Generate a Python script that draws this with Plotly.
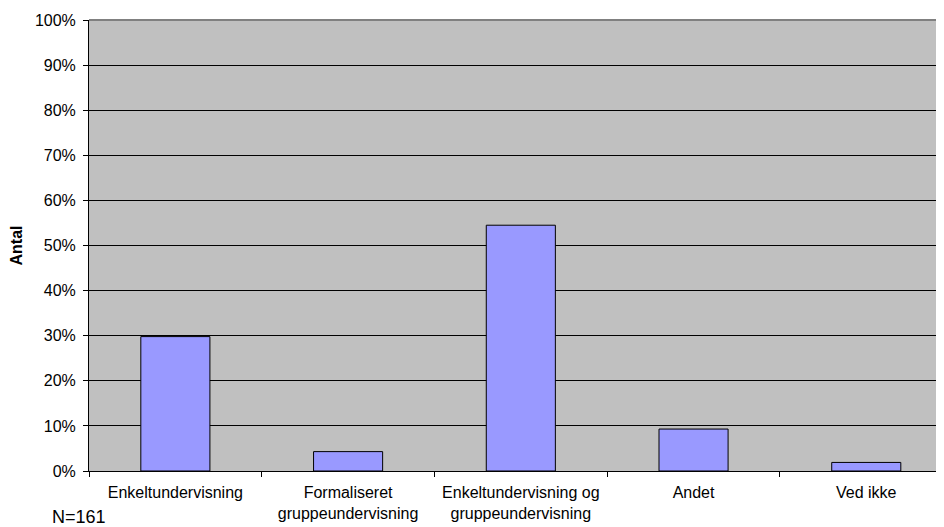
import plotly.graph_objects as go

# Kategorier og andele (procent af N=161)
categories = [
    "Enkeltundervisning",
    "Formaliseret<br>gruppeundervisning",
    "Enkeltundervisning og<br>gruppeundervisning",
    "Andet",
    "Ved ikke",
]
shares = [29.8, 4.3, 54.5, 9.3, 1.9]
y_ticks = [0, 10, 20, 30, 40, 50, 60, 70, 80, 90, 100]
y_ticklabels = [f"{v}%" for v in y_ticks]

fig = go.Figure()
fig.add_trace(go.Bar(
    x=categories,
    y=shares,
    width=0.4,
    marker=dict(color="#9999FF", line=dict(color="black", width=1)),
))

# siden har 8px body-margin, derfor 936x519
fig.update_layout(
    width=936,
    height=519,
    margin=dict(l=81, r=0, t=12, b=56),
    paper_bgcolor="white",
    plot_bgcolor="#C0C0C0",
    font=dict(family="Liberation Sans, Arial, sans-serif", size=16, color="black"),
    showlegend=False,
)

fig.update_xaxes(
    type="category",
    range=[-0.5, 4.45],
    showline=True,
    linecolor="black",
    linewidth=1,
    ticks="outside",
    tickson="boundaries",
    ticklen=5,
    tickcolor="black",
    ticklabelstandoff=7,
    showgrid=False,
    tickfont=dict(size=16),
)

fig.update_yaxes(
    range=[0, 100],
    tickvals=y_ticks,
    ticktext=y_ticklabels,
    showline=True,
    linecolor="black",
    linewidth=1,
    ticks="outside",
    ticklen=5,
    tickcolor="black",
    ticklabelstandoff=4,
    showgrid=True,
    gridcolor="black",
    gridwidth=1,
    zeroline=False,
    tickfont=dict(size=16),
    title=dict(text="<b>Antal</b>", font=dict(size=16), standoff=10),
)

# grå kant øverst i plotområdet
fig.add_shape(type="line", xref="paper", yref="paper", x0=0, x1=1, y0=1, y1=1,
              line=dict(color="#808080", width=2))

fig.add_annotation(text="N=161", xref="paper", yref="paper", x=-0.046, y=0,
                   yshift=-58, xanchor="left", yanchor="bottom", showarrow=False,
                   font=dict(size=18))

fig.write_html("out.html")
